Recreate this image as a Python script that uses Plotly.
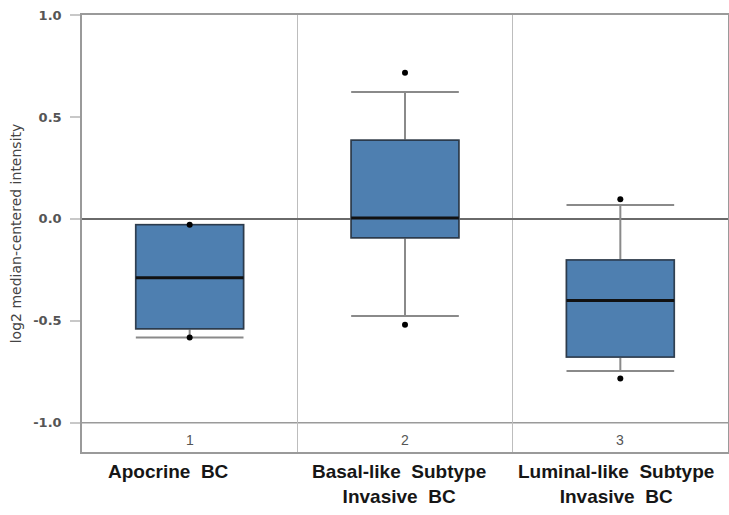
import plotly.graph_objects as go

# ---- data ----
positions = [1, 2, 3]
category_numbers = ["1", "2", "3"]
category_labels = [
    "Apocrine\u00a0\u00a0BC",
    "Basal-like\u00a0\u00a0Subtype<br>Invasive\u00a0\u00a0BC",
    "Luminal-like\u00a0\u00a0Subtype<br>Invasive\u00a0\u00a0BC",
]
q1 = [-0.539, -0.092, -0.677]
median = [-0.288, 0.004, -0.400]
q3 = [-0.029, 0.386, -0.202]
lower_whisker = [-0.582, -0.476, -0.746]
upper_whisker = [-0.029, 0.622, 0.068]
outlier_x = [1, 1, 2, 2, 3, 3]
outlier_y = [-0.029, -0.582, 0.717, -0.519, 0.096, -0.782]
y_tickvals = [-1.0, -0.5, 0.0, 0.5, 1.0]
y_ticktext = ["-1.0", "-0.5", "0.0", "0.5", "1.0"]

BOX_W = 0.5
FILL = "#4e7fb0"
OUTLINE = "#2b3b4d"
WHISK = "#8a8a8a"

fig = go.Figure()

# whiskers + caps (grey)
fig.add_trace(go.Box(
    x=positions, q1=q1, median=median, q3=q3,
    lowerfence=lower_whisker, upperfence=upper_whisker,
    width=BOX_W, whiskerwidth=1, fillcolor=FILL,
    line=dict(color=WHISK, width=2), boxpoints=False, showlegend=False,
    hoverinfo="skip",
))
# box body with dark outline
fig.add_trace(go.Box(
    x=positions, q1=q1, median=median, q3=q3,
    lowerfence=q1, upperfence=q3,
    width=BOX_W, whiskerwidth=0, fillcolor=FILL,
    line=dict(color=OUTLINE, width=1.5), boxpoints=False, showlegend=False,
))
# thick median lines
for p, m in zip(positions, median):
    fig.add_trace(go.Scatter(
        x=[p - BOX_W / 2, p + BOX_W / 2], y=[m, m], mode="lines",
        line=dict(color="#111111", width=3), showlegend=False, hoverinfo="skip",
    ))
# outlier dots
fig.add_trace(go.Scatter(
    x=outlier_x, y=outlier_y, mode="markers",
    marker=dict(color="#000000", size=6), showlegend=False,
))

# line at -1.0 separating the number strip
fig.add_shape(type="line", xref="paper", x0=0, x1=1, yref="y", y0=-1.0, y1=-1.0,
              line=dict(color="#9a9a9a", width=1.5), layer="below")

# category numbers inside the strip
for p, n in zip(positions, category_numbers):
    fig.add_annotation(x=p, y=-1.084, xref="x", yref="y", text=n, showarrow=False,
                       font=dict(family="Liberation Sans Narrow, Arial Narrow, Liberation Sans",
                                 size=14, color="#555555"))

# category labels below plot
label_shift = [-21, -6, -4]
for p, lab, s in zip(positions, category_labels, label_shift):
    fig.add_annotation(x=p, y=0, xref="x", yref="paper", yanchor="top", yshift=-7,
                       xshift=s, text=lab, showarrow=False, align="center",
                       font=dict(family="Liberation Sans, Arial, sans-serif",
                                 size=19, color="#161616", weight="bold"))

fig.update_layout(
    width=729, height=515,
    margin=dict(l=82, r=1, t=15, b=63, pad=0),
    plot_bgcolor="white", paper_bgcolor="white",
    boxmode="overlay",
    xaxis=dict(
        range=[0.5, 3.5], tickvals=[1.5, 2.5], showticklabels=False,
        showgrid=True, gridcolor="#bdbdbd", gridwidth=1, zeroline=False,
        showline=True, mirror=True, linecolor="#9a9a9a", linewidth=1.5,
        ticks="", fixedrange=True,
    ),
    yaxis=dict(
        range=[-1.143, 1.0], tickvals=y_tickvals, ticktext=y_ticktext,
        showgrid=False, zeroline=True, zerolinecolor="#6a6a6a", zerolinewidth=1.5,
        showline=True, mirror=True, linecolor="#9a9a9a", linewidth=1.5,
        ticks="outside", ticklen=10, tickcolor="#c8c8c8", tickwidth=1.5,
        ticklabelstandoff=6,
        tickfont=dict(family="DejaVu Sans", size=13, color="#555555", weight="bold"),
        title=dict(text="log2 median-centered intensity", standoff=8,
                   font=dict(family="DejaVu Sans", size=14, color="#444444")),
        automargin=False,
    ),
)

fig.write_html("out.html")
